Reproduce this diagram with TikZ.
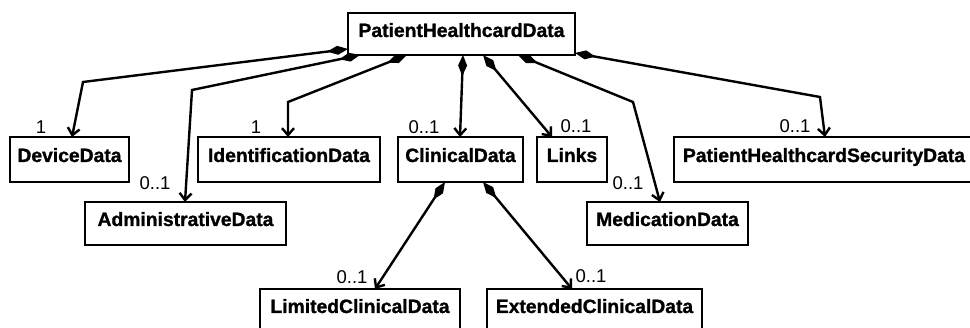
\documentclass[tikz,border=0pt]{standalone}
\usepackage{fontspec}
\setmainfont{Liberation Sans}[BoldFeatures={FakeBold=1.2}]
\usetikzlibrary{arrows.meta}
\begin{document}
\begin{tikzpicture}[x=1pt,y=-1pt,
  cls/.style={draw, line width=2.3pt, inner sep=0pt, outer sep=0pt,
    text height=25pt, text depth=20pt, anchor=north west,
    font=\fontsize{19.3pt}{21pt}\selectfont\bfseries},
  mult/.style={font=\fontsize{18.5pt}{20pt}\selectfont, inner sep=0pt},
  comp/.style={line width=2.4pt,
    {Diamond[length=21pt,width=9pt]}-{Straight Barb[length=7pt,width=12pt]}}]
\useasboundingbox (0,0) rectangle (970,328);
% classes
\node[cls, minimum width=227pt, text height=24pt, text depth=18pt] (phd) at (348,13) {PatientHealthcardData};
\node[cls, minimum width=119pt] (dev) at (10,137) {DeviceData};
\node[cls, minimum width=182pt] (idd) at (198,137) {IdentificationData};
\node[cls, minimum width=125pt] (cli) at (398,137) {ClinicalData};
\node[cls, minimum width=70pt] (lnk) at (537,137) {Links};
\node[cls, minimum width=300pt] (sec) at (674,137) {PatientHealthcardSecurityData};
\node[cls, minimum width=201pt, text height=24pt, text depth=19pt] (adm) at (85,202) {AdministrativeData};
\node[cls, minimum width=161pt, text height=24pt, text depth=19pt] (med) at (587,202) {MedicationData};
\node[cls, minimum width=200pt, text height=24pt] (lim) at (260,289) {LimitedClinicalData};
\node[cls, minimum width=215pt, text height=24pt] (ext) at (487,289) {ExtendedClinicalData};
% compositions
\draw[comp] ([yshift=6pt]phd.south west) -- (83,82) -- ([xshift=62pt]dev.north west);
\draw[comp] ([xshift=12pt]phd.south west) -- (192,90) -- ([xshift=100pt]adm.north west);
\draw[comp] ([xshift=59pt]phd.south west) -- (288,102) -- ([xshift=90pt]idd.north west);
\draw[comp] ([xshift=115pt]phd.south west) -- ([xshift=62pt]cli.north west);
\draw[comp] ([xshift=135pt]phd.south west) -- ([xshift=15pt]lnk.north west);
\draw[comp] ([xshift=170pt]phd.south west) -- (633,102) -- ([xshift=73pt]med.north west);
\draw[comp] ([yshift=2pt]phd.south east) -- (820,97) -- ([xshift=151pt]sec.north west);
\draw[comp] ([xshift=47pt]cli.south west) -- ([xshift=115pt]lim.north west);
\draw[comp] ([xshift=85pt]cli.south west) -- ([xshift=85pt]ext.north west);
% multiplicities
\node[mult] (m1) at (41,127) {1};
\node[mult] (m2) at (155,183) {0..1};
\node[mult] (m3) at (256,127) {1};
\node[mult] (m4) at (424,127) {0..1};
\node[mult] (m5) at (576,126) {0..1};
\node[mult] (m6) at (628,183) {0..1};
\node[mult] (m7) at (795,126) {0..1};
\node[mult] (m8) at (352,277) {0..1};
\node[mult] (m9) at (591,276) {0..1};
\end{tikzpicture}
\end{document}
